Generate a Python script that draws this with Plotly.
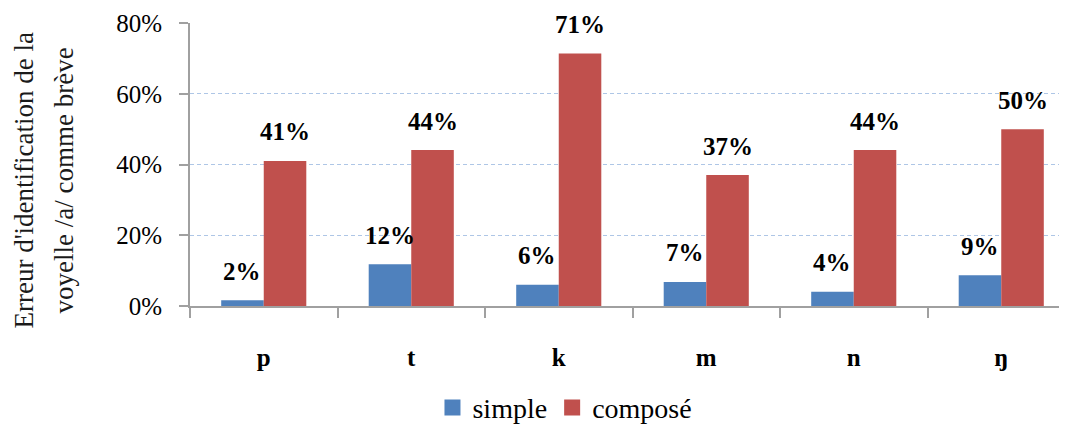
import plotly.graph_objects as go

categories = ["p", "t", "k", "m", "n", "ŋ"]
simple = [0.016, 0.118, 0.06, 0.068, 0.04, 0.087]
compose = [0.41, 0.441, 0.714, 0.37, 0.441, 0.50]
series_names = ["simple", "composé"]
series_colors = ["#4F81BD", "#C0504D"]
y_title_lines = ["Erreur d'identification de la", "voyelle /a/ comme brève"]

SERIF = "Liberation Serif"

fig = go.Figure()
for name, vals, col in zip(series_names, [simple, compose], series_colors):
    fig.add_trace(go.Bar(x=categories, y=vals, name=name, marker_color=col,
                         marker_line_width=0, showlegend=False))
# legend entries with larger square swatches
for name, col in zip(series_names, series_colors):
    fig.add_trace(go.Scatter(x=[categories[0]], y=[None], mode="markers", name=name,
                             marker=dict(symbol="square", size=16, color=col),
                             showlegend=True, hoverinfo="skip"))

annotations = []
bar_half = 21.3
for k, vals in enumerate([simple, compose]):
    shift = -bar_half if k == 0 else bar_half
    for c, v in zip(categories, vals):
        annotations.append(dict(x=c, y=v, xref="x", yref="y", text=f"<b>{round(v*100)}%</b>",
                                showarrow=False, xshift=shift, yshift=29, yanchor="middle",
                                font=dict(family=SERIF, size=25, color="#000"),
                                ))

for line, xs in zip(y_title_lines, [-167, -127]):
    annotations.append(dict(x=0, y=0.5, xref="paper", yref="paper", text=line,
                            showarrow=False, textangle=-90, xshift=xs, yshift=-16,
                            xanchor="center", yanchor="middle",
                            font=dict(family=SERIF, size=27, color="#1a1a1a")))

fig.update_layout(
    width=1067, height=424,
    margin=dict(l=182, r=0, t=15, b=126, autoexpand=False),
    plot_bgcolor="white", paper_bgcolor="white",
    barmode="group", bargap=0.423, bargroupgap=0,
    annotations=annotations,
    showlegend=True,
    legend=dict(orientation="h", xref="container", yref="container",
                x=0.522, y=0.057, xanchor="center", yanchor="middle",
                font=dict(family=SERIF, size=28, color="#000"),
                itemwidth=30, tracegroupgap=0),
    xaxis=dict(range=[-0.5, 5.5], type="category", showgrid=False,
               showline=True, linecolor="#a0a0a0", linewidth=2,
               ticks="outside", tickson="boundaries", ticklen=10, tickcolor="#a0a0a0",
               tickwidth=2, ticklabelstandoff=28,
               tickfont=dict(family=SERIF, size=25, color="#000", weight="bold")),
    yaxis=dict(range=[0, 0.8], tickvals=[0, 0.2, 0.4, 0.6, 0.8], tickformat=".0%",
               showgrid=True, gridcolor="#aec6e6", griddash="4px,3px", gridwidth=1,
               showline=True, linecolor="#a0a0a0", linewidth=2,
               ticks="outside", ticklen=9, tickcolor="#a0a0a0", tickwidth=2,
               ticklabelstandoff=12, zeroline=False,
               tickfont=dict(family=SERIF, size=25, color="#000")),
)

fig.write_html("out.html")
